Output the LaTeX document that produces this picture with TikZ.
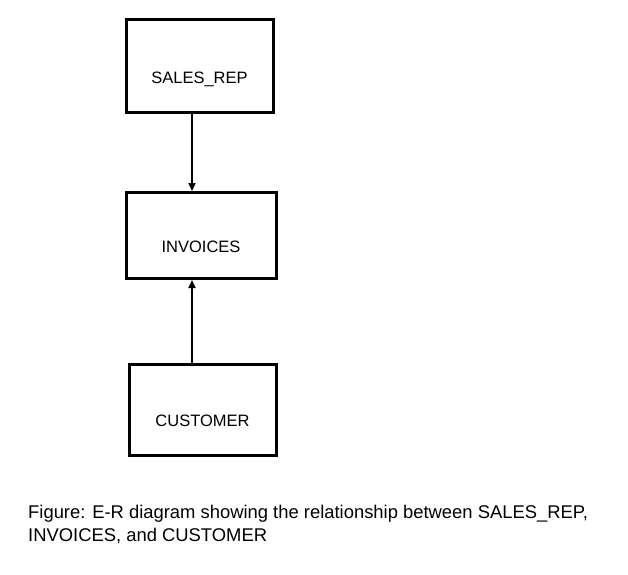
\documentclass[tikz,border=0pt]{standalone}
\usepackage{fontspec}
\setmainfont{Liberation Sans}
\usetikzlibrary{arrows.meta}
\begin{document}
\begin{tikzpicture}[x=1pt,y=-1pt,
  entity/.style={draw=black,line width=3pt,inner sep=0pt,text depth=0pt,font=\fontsize{16.5}{20}\selectfont},
  rel/.style={line width=1.8pt,-{Triangle[length=8pt,width=7pt]}},
  captxt/.style={anchor=base west,inner sep=0pt,font=\fontsize{18.4}{23.4}\selectfont}]
\useasboundingbox (0,0) rectangle (628,574);
\node[entity,minimum width=147pt,minimum height=93pt,text height=35pt] (salesrep) at (199.5,65.5) {SALES\_REP};
\node[entity,minimum width=150pt,minimum height=86pt,text height=33pt] (invoices) at (201,235.5) {INVOICES};
\node[entity,minimum width=147pt,minimum height=91pt,text height=34pt] (customer) at (202.5,409.5) {CUSTOMER};
\draw[rel] (salesrep.south -| 192,0) -- (invoices.north -| 192,0);
\draw[rel] (customer.north -| 192,0) -- (invoices.south -| 192,0);
\node[captxt] (caption1) at (28,518.3) {Figure: E-R diagram showing the relationship between SALES\_REP,};
\node[captxt] (caption2) at (28,541.7) {INVOICES, and CUSTOMER};
\end{tikzpicture}
\end{document}
